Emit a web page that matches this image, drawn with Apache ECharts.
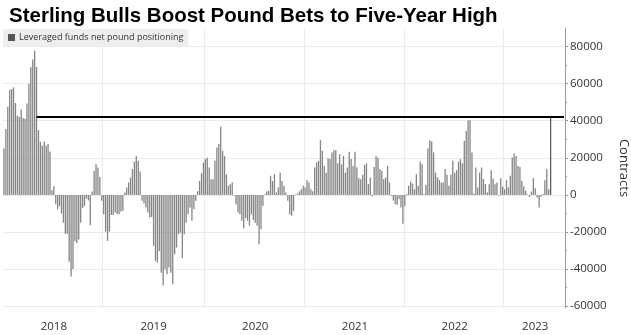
<!DOCTYPE html>
<html>
<head>
<meta charset="utf-8">
<script src="https://cdn.jsdelivr.net/npm/echarts@6/dist/echarts.min.js"></script>
<style>
  html, body { margin: 0; padding: 0; background: #fff; }
  #chart { width: 631px; height: 335px; }
</style>
</head>
<body>
<div id="chart"></div>
<script>
// Weekly CFTC readings (Tuesdays), leveraged funds net GBP position, contracts
const firstWeek = '2018-01-02';

const net2018 = [25000, 35500, 47500, 56500, 57000, 58000, 49500, 42700, 42000, 46000, 41400, 41000, 49300,
  60000, 69000, 73000, 77800, 69000, 35000, 28600, 26500, 28800, 26500, 27400, 23400, 2500, 4700, -5000,
  -7700, -6000, -10000, -15000, -21000, -21000, -36000, -44000, -40000, -25000, -26000, -24000, -15000,
  -7000, -6000, -2000, -3000, -16400, 1800, 13000, 16500, 14800, 9700, -3200];

const net2019 = [-10400, -19800, -24800, -19800, -10800, -10800, -9500, -10400, -10400, -9000, -8600, 1300,
  4000, 6700, 9400, 13900, 18000, 21000, 18400, 12600, -3200, -4700, -6800, -9500, -12200, -11900, -27500,
  -35600, -36500, -30200, -42000, -48800, -40100, -42800, -39200, -42000, -48200, -32000, -28400, -21200,
  -20300, -34000, -21200, -15000, -10400, -6800, -14000, -7700, -3200, 2000, 7500, 11700, 17500];

const net2020 = [19300, 20000, 14800, 8500, 8500, 18400, 25500, 27400, 36700, 23800, 21000, 11000, 4900,
  5800, 6700, -500, -5000, -9500, -10400, -14000, -18000, -12500, -14000, -16700, -10500, -13500, -15000,
  -16700, -26600, -18500, -6000, 300, 1800, 2200, 10300, 7500, 11200, 1300, 4000, 12000, 7500, 4900, 1300,
  -3200, -10400, -11300, -8600, 300, 700, 1800, 3000, 4900];

const net2021 = [4000, 8000, 6700, 3000, 2000, 14800, 17500, 18400, 29500, 23800, 15600, 12000, 19800,
  19300, 22900, 24100, 24100, 17000, 22000, 16500, 21000, 12000, 14800, 23200, 19300, 15600, 23200, 14800,
  9000, 8500, 10800, 16200, 17000, 5800, 9400, -800, 15000, 21000, 20000, 13900, 13000, 8500, 9400, 15600,
  6700, -500, -3000, -5000, -5500, -2300, -6800, -15500];

const net2022 = [-6000, 500, 4900, 7200, 6100, 3000, 11200, 4900, 18000, 16500, 300, 5400, 25200, 29500,
  28800, 22900, 12000, 9400, 8000, 6700, 6700, 13900, 10800, 4900, 10800, 18400, 12000, 13300, 18000, 19300,
  17000, 29200, 34500, 40300, 40300, 22900, 700, 14800, 4000, 12000, 14800, 8500, 5800, 1300, 5800, 13300,
  8800, 5800, 6700, -500, 9000, 4500];

const net2023 = [3000, 7900, 4000, 10300, 20200, 22300, 21000, 15600, 15100, 7500, 4500, 2200, 300, -1000,
  1800, 9000, 3600, -1400, -6800, -1000, 500, 7900, 13900, 3000, 42000];

const seriesName = 'Leveraged funds net pound positioning';
const titleText = 'Sterling Bulls Boost Pound Bets to Five-Year High';
const axisName = 'Contracts';
const yTicks = [-60000, -40000, -20000, 0, 20000, 40000, 60000, 80000];
const yMinorTicks = [-50000, -30000, -10000, 10000, 30000, 50000, 70000];
const trailingWeeks = 7; // empty weeks kept on the right of the time line

const values = [].concat(net2018, net2019, net2020, net2021, net2022, net2023);

// weekly category dates
const weeks = [];
const t0 = Date.parse(firstWeek + 'T00:00:00Z');
for (let i = 0; i < values.length + trailingWeeks; i++) {
  weeks.push(new Date(t0 + i * 7 * 86400000).toISOString().slice(0, 10));
}
const yearOf = i => weeks[i].slice(0, 4);

// first week of each new year gets a vertical grid line
const yearStart = new Set();
for (let i = 1; i < weeks.length; i++) if (yearOf(i) !== yearOf(i - 1)) yearStart.add(i);

// year label sits in the middle of that year's weeks
const yearMid = new Set();
let s = 0;
for (let i = 1; i <= weeks.length; i++) {
  if (i === weeks.length || yearOf(i) !== yearOf(s)) {
    yearMid.add(Math.round((s + i - 1) / 2));
    s = i;
  }
}

// reference line: latest level, back to the last week that was at least as high
const last = values.length - 1;
const latest = values[last];
let since = last - 1;
while (since > 0 && values[since] < latest) since--;

const barData = values.map((v, i) => i === last ? { value: v, itemStyle: { color: '#5e5e5e' } } : v);

const font = '"Open Sans", "Liberation Sans", sans-serif';
const chart = echarts.init(document.getElementById('chart'), null, { renderer: 'canvas' });

chart.setOption({
  animation: false,
  backgroundColor: '#fff',
  title: {
    text: titleText,
    left: 4, top: 1,
    textStyle: { fontFamily: '"Liberation Sans", Arial, sans-serif', fontWeight: 'bold', fontSize: 20.5, color: '#000' }
  },
  legend: {
    left: 3, top: 29,
    padding: [4, 5, 4, 5],
    backgroundColor: '#eeeeee',
    icon: 'rect', itemWidth: 7, itemHeight: 7, itemGap: 4,
    data: [{ name: seriesName, itemStyle: { color: '#555' } }],
    textStyle: { fontFamily: font, fontSize: 9, color: '#333', padding: [0, 0, 0, -1] }
  },
  grid: { left: 3, right: 66, top: 28, bottom: 27, containLabel: false, outerBoundsMode: 'none' },
  xAxis: {
    type: 'category',
    data: weeks,
    boundaryGap: true,
    axisLine: { show: false },
    axisTick: { show: false },
    splitLine: { show: true, interval: (i) => yearStart.has(i), lineStyle: { color: '#ebebeb', width: 1 } },
    axisLabel: {
      interval: (i) => yearMid.has(i),
      formatter: v => v.slice(0, 4),
      margin: 13,
      fontFamily: font, fontSize: 11.5, color: '#333'
    }
  },
  yAxis: [{
    type: 'value',
    position: 'right',
    min: -61000, max: 90000,
    name: axisName,
    nameLocation: 'middle',
    nameRotate: -90,
    nameGap: 46,
    nameTextStyle: { fontFamily: font, fontSize: 13, color: '#333' },
    axisLine: { show: true, lineStyle: { color: '#9a9a9a', width: 1 } },
    axisTick: { show: true, inside: false, length: 3, customValues: yTicks, lineStyle: { color: '#9a9a9a' } },
    axisLabel: { customValues: yTicks, formatter: v => String(v), margin: 5, fontFamily: font, fontSize: 11.5, color: '#333' },
    splitLine: { show: true, lineStyle: { color: '#ebebeb', width: 1 } }
  }, {
    type: 'value',
    position: 'right',
    min: -61000, max: 90000,
    axisLine: { show: false },
    axisTick: { show: true, length: 2, customValues: yMinorTicks, lineStyle: { color: '#9a9a9a' } },
    axisLabel: { show: false },
    splitLine: { show: false }
  }],
  series: [{
    name: seriesName,
    type: 'bar',
    data: barData,
    barWidth: '68%',
    itemStyle: { color: '#858585' },
    markLine: {
      silent: true,
      symbol: ['none', 'none'],
      label: { show: false },
      lineStyle: { color: '#000', width: 2, type: 'solid' },
      data: [[{ coord: [weeks[since], latest] }, { coord: [weeks[weeks.length - 1], latest] }]]
    }
  }]
});
</script>
</body>
</html>
